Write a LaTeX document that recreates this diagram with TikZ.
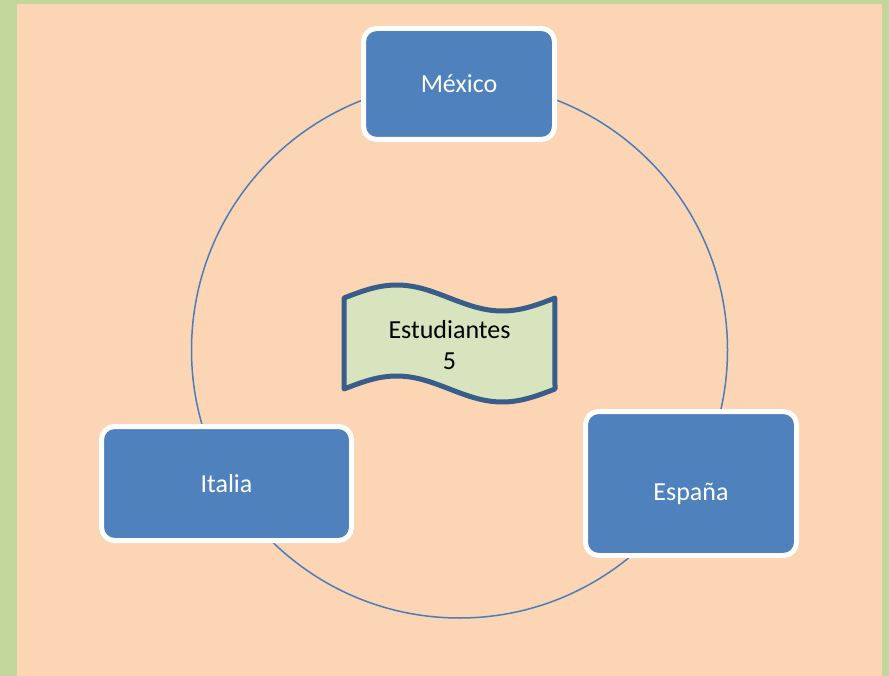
\documentclass[tikz,border=0pt]{standalone}
\usepackage{fontspec}
\setmainfont{Carlito}
\definecolor{bggreen}{HTML}{C3D69B}
\definecolor{bgpeach}{HTML}{FCD5B5}
\definecolor{boxblue}{HTML}{4F81BD}
\definecolor{ringblue}{HTML}{4A7EBB}
\definecolor{waveline}{HTML}{385D8A}
\definecolor{wavefill}{HTML}{D7E4BD}
\begin{document}
\begin{tikzpicture}[x=1pt,y=-1pt,
  country/.style={draw=white, line width=5pt, fill=boxblue, rounded corners=13pt,
    text=white, font=\fontsize{26}{31}\selectfont, inner sep=0pt},
  wavebox/.style={draw=waveline, fill=wavefill, line width=5pt, line join=round},
  wavetext/.style={text=black, align=center, font=\fontsize{26}{31}\selectfont, inner sep=0pt}
]
\useasboundingbox (0,0) rectangle (889,676);
\fill[bggreen] (0,0) rectangle (889,676);
\fill[bgpeach] (17,4) rectangle (882,676);
\node (ring) [circle, draw=ringblue, line width=1.5pt, minimum size=536pt, inner sep=0pt] at (459.5,350) {};
\node (mexico) [country, minimum width=191pt, minimum height=111pt] at (459,84) {México};
\node (espana) [country, minimum width=211pt, minimum height=144pt, text height=40pt, text depth=6pt] at (691,483.5) {España};
\node (italia) [country, minimum width=250pt, minimum height=114pt] at (226.5,483.5) {Italia};
\draw[wavebox] plot[domain=0:1, samples=60, smooth] ({344+211*\x},{298-13*sin(360*\x)})
  -- plot[domain=1:0, samples=60, smooth] ({344+211*\x},{389-13*sin(360*\x)}) -- cycle;
\node (students) [wavetext] at (449.5,345.5) {Estudiantes\\5};
\end{tikzpicture}
\end{document}
